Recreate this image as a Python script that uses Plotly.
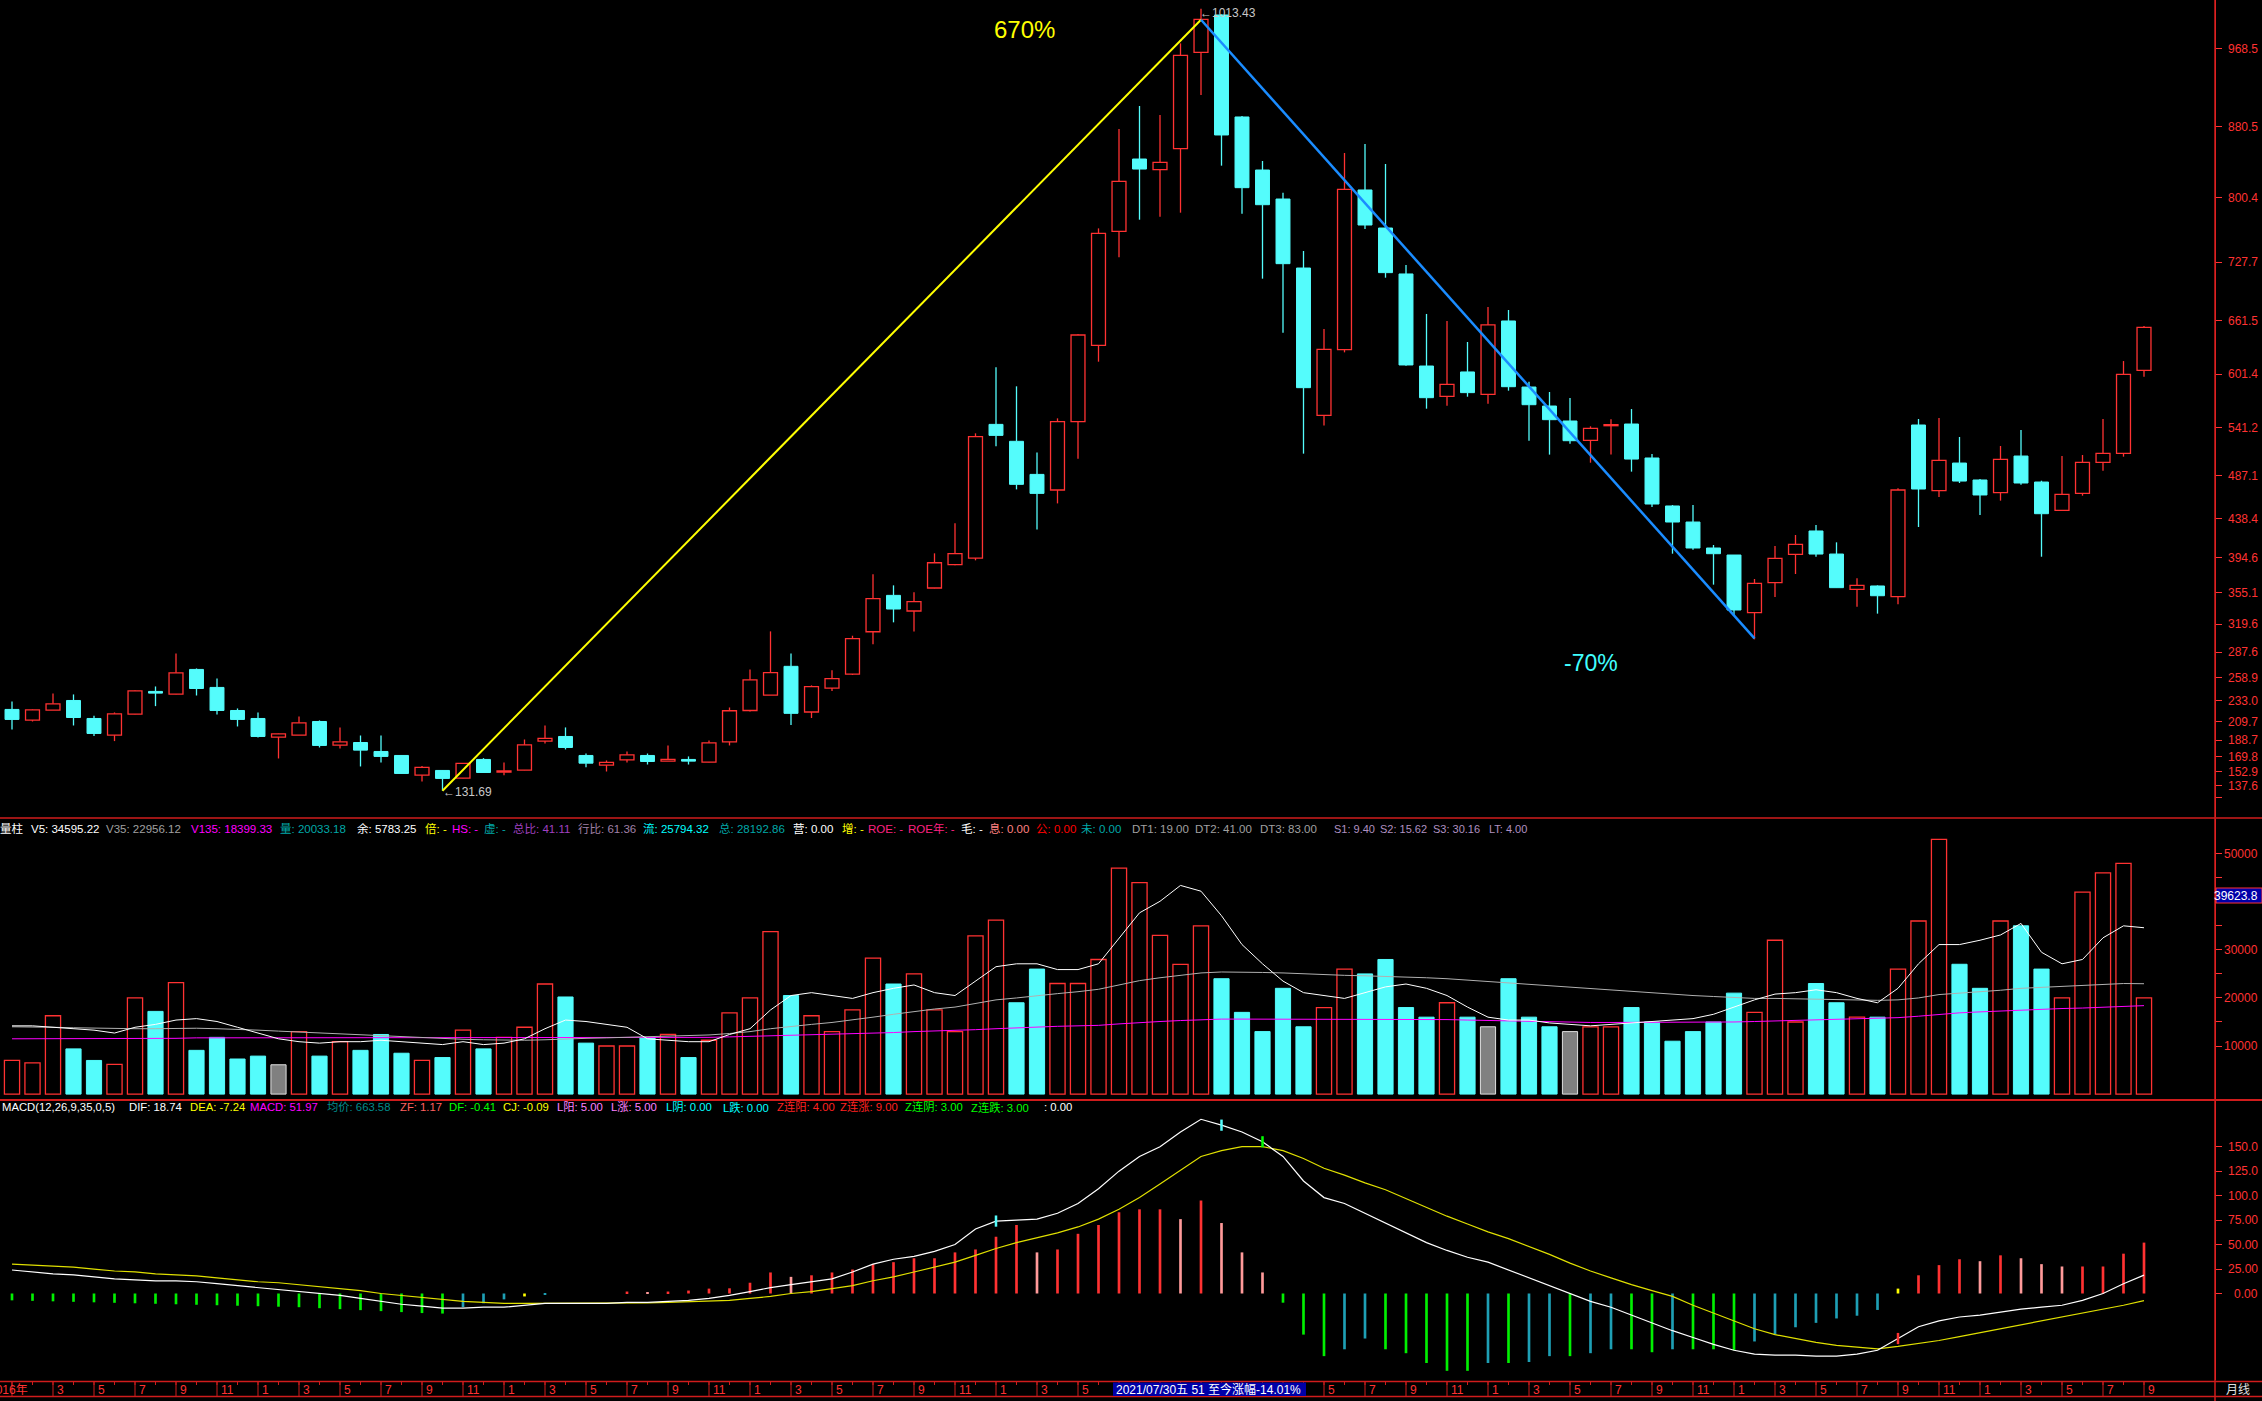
import plotly.graph_objects as go
import pandas as pd

W, H = 2262, 1401
RED = '#ff3232'
CYAN = '#54fcfc'
FONT = 'Liberation Sans, Noto Sans CJK SC, sans-serif'

months = pd.period_range('2016-01', periods=105, freq='M')

opens = [223.4, 211.3, 222.6, 233.5, 213.2, 194.4, 218.1, 243.7, 240.6, 268.5,
         248.2, 222.2, 213.2, 192.2, 194.4, 209.8, 183.1, 186.1, 176.0, 171.5,
         149.3, 154.6, 145.9, 167.0, 152.7, 155.0, 187.7, 192.9, 171.5, 160.6,
         166.6, 171.5, 165.1, 167.0, 164.0, 186.9, 222.2, 239.6, 272.0, 220.5,
         247.5, 263.3, 311.0, 352.0, 334.4, 360.3, 386.6, 394.1, 544.8, 525.7,
         488.4, 470.8, 547.9, 633.9, 762.5, 844.0, 832.0, 855.7, 964.3, 1006.4,
         891.4, 831.6, 798.9, 721.1, 555.0, 629.1, 809.1, 766.2, 714.4, 610.6,
         576.4, 603.9, 578.7, 661.4, 586.9, 565.5, 548.6, 526.8, 543.3, 545.2,
         506.9, 452.8, 434.7, 405.4, 397.5, 332.5, 366.3, 398.3, 424.6, 398.6,
         358.8, 362.6, 350.5, 544.1, 470.0, 501.2, 482.1, 467.8, 509.1, 479.8,
         447.9, 467.0, 502.0, 512.1, 605.7]
highs = [232.4, 223.5, 241.4, 240.3, 216.2, 220.0, 244.9, 249.3, 286.5, 269.6,
         258.3, 224.5, 220.0, 196.3, 215.5, 211.0, 203.1, 194.0, 194.0, 172.0,
         159.5, 155.0, 163.0, 168.5, 163.6, 189.5, 205.3, 203.1, 173.7, 165.9,
         176.0, 173.7, 182.8, 170.4, 188.4, 225.6, 268.5, 311.4, 286.6, 250.5,
         267.5, 306.5, 375.7, 363.3, 355.4, 399.4, 433.2, 534.7, 609.1, 587.7,
         513.2, 551.6, 646.5, 765.8, 877.9, 903.8, 893.6, 974.4, 1013.43, 1007.0,
         892.5, 841.8, 806.1, 740.3, 652.3, 850.8, 860.9, 838.4, 724.5, 669.3,
         661.4, 637.7, 677.2, 673.8, 593.0, 581.3, 574.5, 542.6, 550.5, 562.1,
         511.4, 453.9, 453.9, 408.8, 397.6, 370.5, 407.7, 420.1, 431.3, 411.8,
         371.2, 363.3, 472.7, 550.9, 552.0, 530.6, 483.2, 520.4, 538.4, 481.3,
         509.1, 510.3, 550.9, 616.2, 655.7]
lows = [200.8, 209.8, 222.6, 205.3, 193.3, 187.7, 217.8, 227.1, 240.3, 239.1,
        217.7, 204.2, 191.8, 168.1, 194.2, 180.5, 179.4, 159.1, 163.6, 150.8,
        142.2, 131.69, 145.5, 152.0, 149.3, 154.8, 185.0, 178.3, 158.3, 153.4,
        163.6, 161.3, 165.0, 161.3, 163.8, 182.8, 221.1, 239.6, 205.8, 213.7,
        244.1, 262.2, 296.8, 321.6, 311.4, 360.0, 386.0, 391.5, 520.0, 471.5,
        426.4, 455.7, 506.1, 615.5, 733.2, 775.6, 779.0, 783.5, 916.2, 836.5,
        782.4, 709.1, 648.2, 511.8, 543.4, 626.0, 765.1, 710.2, 611.0, 562.5,
        565.9, 576.0, 568.2, 582.8, 526.4, 510.7, 523.1, 501.6, 510.7, 491.5,
        451.6, 399.0, 403.5, 364.1, 329.9, 302.4, 350.2, 376.1, 395.6, 360.5,
        339.3, 331.4, 341.9, 429.1, 462.9, 478.7, 442.6, 458.8, 476.8, 395.6,
        447.5, 464.4, 492.6, 508.4, 598.6]
closes = [212.1, 223.0, 229.7, 214.3, 196.3, 218.5, 244.4, 241.8, 264.7, 247.0,
          222.2, 212.1, 192.9, 195.9, 208.3, 182.8, 186.9, 177.5, 170.4, 151.2,
          158.0, 145.6, 162.5, 152.3, 154.2, 183.5, 190.7, 180.5, 162.8, 163.6,
          172.2, 164.7, 167.0, 165.1, 185.8, 221.9, 256.8, 264.8, 219.0, 249.0,
          258.1, 303.2, 348.3, 336.6, 344.9, 388.8, 399.0, 530.9, 532.4, 477.2,
          467.0, 547.8, 645.6, 760.2, 818.8, 832.7, 840.3, 960.9, 1001.5, 871.1,
          811.7, 792.5, 726.0, 586.2, 629.4, 809.8, 769.6, 715.9, 611.8, 574.9,
          590.0, 580.6, 656.9, 587.3, 567.0, 550.1, 526.4, 540.3, 544.5, 505.7,
          455.0, 434.7, 405.4, 399.0, 335.5, 365.6, 393.8, 409.5, 398.6, 360.7,
          363.3, 351.6, 470.8, 471.9, 504.2, 480.9, 465.2, 505.4, 478.7, 444.1,
          465.9, 502.0, 512.1, 601.2, 654.2]

volume = [7000, 6500, 16300, 9400, 7000, 6200, 20000, 17200, 23200, 9100,
          11800, 7300, 7900, 6100, 13000, 7900, 10900, 9100, 12400, 8500,
          7000, 7600, 13300, 9400, 11800, 13900, 22900, 20200, 10600, 10000,
          10000, 11800, 12400, 7600, 11200, 16900, 20000, 33800, 20500, 16300,
          13000, 17500, 28300, 22900, 25000, 17500, 13000, 32900, 36200, 19000,
          26000, 23000, 23000, 28000, 47000, 44000, 33000, 27000, 35000, 24000,
          17000, 13000, 22000, 14000, 18000, 26000, 25000, 28000, 18000, 16000,
          19000, 16000, 14000, 24000, 16000, 14000, 13000, 14000, 14000, 18000,
          15000, 11000, 13000, 15000, 21000, 17000, 32000, 15000, 23000, 19000,
          16000, 16000, 26000, 36000, 53000, 27000, 22000, 36000, 35000, 26000,
          20000, 42000, 46000, 48000, 20000]
vol_gray = [13, 72, 76]

vol_ma5 = [14200, 14200, 13900, 13600, 13300, 12700, 13900, 14500, 15400, 15700,
           15100, 13900, 12700, 11500, 10900, 10600, 10900, 10900, 11200, 10900,
           10600, 10300, 10900, 10300, 10600, 11500, 13600, 15400, 15100, 14500,
           13900, 11500, 11200, 10900, 10900, 12400, 13600, 17500, 20500, 21100,
           20500, 19900, 21100, 22000, 22700, 21100, 20500, 23500, 26500, 27100,
           27100, 25900, 25900, 27100, 32500, 37700, 40100, 43400, 42200, 37100,
           31100, 27100, 23500, 21100, 20500, 19900, 21100, 22300, 22900, 22000,
           20500, 18100, 16000, 15400, 15400, 14800, 14500, 14200, 14500, 14800,
           15100, 15400, 15700, 16600, 18100, 19600, 20800, 21100, 21700, 21100,
           19900, 19000, 22000, 27100, 31100, 31100, 32000, 33100, 35500, 29500,
           27100, 28000, 32500, 35000, 34600]
vol_ma35 = [14000, 14000, 13900, 13800, 13700, 13600, 13600, 13600, 13700, 13700,
            13600, 13500, 13300, 13100, 12900, 12700, 12500, 12300, 12100, 11900,
            11700, 11500, 11400, 11300, 11200, 11200, 11300, 11500, 11600, 11700,
            11800, 11900, 12000, 12100, 12300, 12600, 13000, 13600, 14100, 14500,
            14900, 15400, 16000, 16600, 17200, 17700, 18100, 18800, 19600, 20000,
            20500, 20900, 21300, 21800, 22700, 23600, 24200, 24700, 25200, 25400,
            25400, 25300, 25200, 25000, 24800, 24700, 24600, 24500, 24400, 24200,
            24000, 23700, 23400, 23200, 22900, 22600, 22300, 22000, 21700, 21400,
            21100, 20800, 20500, 20300, 20100, 19900, 19900, 19800, 19800, 19700,
            19600, 19500, 19600, 20000, 20700, 21000, 21200, 21600, 22000, 22200,
            22300, 22500, 22800, 23000, 22956]
vol_ma135 = [11500, 11500, 11500, 11500, 11500, 11500, 11600, 11600, 11600, 11700,
             11700, 11700, 11700, 11700, 11700, 11700, 11700, 11700, 11700, 11700,
             11700, 11700, 11700, 11700, 11700, 11700, 11800, 11800, 11800, 11800,
             11800, 11800, 11800, 11800, 11800, 11900, 12000, 12100, 12200, 12300,
             12400, 12500, 12600, 12800, 13000, 13100, 13200, 13400, 13600, 13800,
             14000, 14100, 14200, 14300, 14600, 14900, 15100, 15300, 15500, 15600,
             15600, 15600, 15600, 15600, 15600, 15600, 15600, 15600, 15600, 15600,
             15500, 15400, 15300, 15200, 15100, 15000, 14900, 14900, 14900, 14900,
             14900, 14900, 14900, 14900, 15000, 15100, 15200, 15300, 15400, 15500,
             15600, 15700, 15900, 16200, 16600, 16900, 17100, 17300, 17500, 17700,
             17800, 17900, 18100, 18300, 18399]

dif = [24, 22, 20, 19, 17, 15, 14, 13, 13, 12, 10, 8, 6, 4, 2, 0, -2, -5, -8, -11,
       -13, -15, -15, -14, -14, -12, -10, -10, -10, -10, -9, -9, -8, -7, -5, -2, 2, 6, 9, 12,
       15, 22, 30, 35, 38, 43, 50, 66, 74, 75, 76, 82, 92, 107, 125, 140, 150, 165, 178, 172,
       165, 155, 140, 115, 98, 92, 82, 72, 62, 52, 44, 37, 32, 24, 16, 8, 0, -8, -14, -22,
       -30, -38, -45, -52, -58, -62, -63, -63, -64, -64, -62, -58, -46, -34, -28, -24, -22, -19, -16, -14,
       -12, -7, 0, 10, 18.74]
dea = [30, 29, 28, 27, 25, 23, 22, 20, 19, 18, 16, 14, 12, 11, 9, 7, 5, 3, 0, -2,
       -4, -6, -8, -9, -10, -10, -10, -10, -10, -10, -10, -9.5, -9, -8.5, -8, -7, -5, -3, 0, 2,
       5, 8, 13, 17, 22, 27, 32, 39, 46, 52, 57, 62, 68, 76, 86, 98, 112, 126, 140, 146,
       150, 150, 146, 138, 128, 121, 113, 106, 97, 88, 79, 71, 63, 56, 48, 40, 31, 23, 16, 9,
       3, -3, -12, -20, -28, -36, -42, -46, -50, -53, -55, -56.5, -54, -51, -48, -44, -40, -36, -32, -28,
       -24, -20, -16, -12, -7.24]
macd_bar = [-7, -7.5, -8, -8.5, -9, -9.5, -10, -10.5, -11, -11.5, -12, -12.5, -13, -13.5, -14, -15, -16, -17, -18, -19,
            -20, -20.5, -14, -10, -6, -3, -1, 0, 0, 0, 2, 1, 2, 3, 5, 5.3, 11, 21.5, 17, 18.6,
            21.5, 24.5, 30, 32, 36, 36, 42, 45, 58, 70, 42, 45, 61, 70, 83, 86, 86, 76, 95, 72,
            42, 21.5, -9.4, -42, -64, -57, -46, -57, -61, -71, -79, -79, -71, -71, -70, -64, -64, -61, -57, -57,
            -60, -57, -57, -57, -58, -49, -42, -34.5, -30, -25.5, -22.7, -16.8, 5, 18.6, 29, 35, 33, 39, 36, 30,
            27.6, 27.6, 27.6, 40.7, 52]
macd_yellow = [25, 92]
dif_marks = [(48, '#54fcfc'), (59, '#54fcfc'), (61, '#00ff00'), (92, '#ff3232')]

price_ticks = [968.5, 880.5, 800.4, 727.7, 661.5, 601.4, 541.2, 487.1, 438.4, 394.6,
               355.1, 319.6, 287.6, 258.9, 233.0, 209.7, 188.7, 169.8, 152.9, 137.6]
price_tick_extra = [123.9]
vol_ticks = [10000, 20000, 30000, 50000]
vol_minor = [15000, 25000, 35000, 40000, 45000]
macd_ticks = [0, 25, 50, 75, 100, 125, 150]
macd_labels = ['0.00', '25.00', '50.00', '75.00', '100.0', '125.0', '150.0']

N = len(closes)
idx = list(range(N))
X_RANGE = [-12 / 20.5, (2215 - 12) / 20.5]
XD = 2215 / W


def px(x):
    return x / W


def py(y):
    return 1 - y / H


fig = go.Figure()

up = [c >= o for o, c in zip(opens, closes)]
ui = [i for i in idx if up[i]]
di = [i for i in idx if not up[i]]
fig.add_trace(go.Bar(x=ui, y=[max(abs(closes[i] - opens[i]), 0.6) for i in ui],
                     base=[min(opens[i], closes[i]) for i in ui], width=0.68,
                     marker=dict(color='black', line=dict(color=RED, width=1.3)),
                     xaxis='x', yaxis='y', hoverinfo='skip'))
fig.add_trace(go.Bar(x=di, y=[max(abs(closes[i] - opens[i]), 0.6) for i in di],
                     base=[min(opens[i], closes[i]) for i in di], width=0.68,
                     marker=dict(color=CYAN, line=dict(color=CYAN, width=1)),
                     xaxis='x', yaxis='y', hoverinfo='skip'))


def wicks(ids):
    xs, ys = [], []
    for i in ids:
        top = max(opens[i], closes[i])
        bot = min(opens[i], closes[i])
        xs += [i, i, None, i, i, None]
        ys += [highs[i], top, None, bot, lows[i], None]
    return xs, ys


wx, wy = wicks(ui)
fig.add_trace(go.Scatter(x=wx, y=wy, mode='lines', line=dict(color=RED, width=1.3),
                         xaxis='x', yaxis='y', hoverinfo='skip'))
wx, wy = wicks(di)
fig.add_trace(go.Scatter(x=wx, y=wy, mode='lines', line=dict(color=CYAN, width=1.3),
                         xaxis='x', yaxis='y', hoverinfo='skip'))

lo_i, hi_i, lo2_i = 21, 58, 85
fig.add_trace(go.Scatter(x=[lo_i, hi_i], y=[lows[lo_i], 1001], mode='lines',
                         line=dict(color='#ffff00', width=2), xaxis='x', yaxis='y'))
fig.add_trace(go.Scatter(x=[hi_i, lo2_i], y=[1001, 303.5], mode='lines',
                         line=dict(color='#1a8cff', width=2.5), xaxis='x', yaxis='y'))

vup = [i == 0 or closes[i] >= closes[i - 1] for i in idx]
vu = [i for i in idx if vup[i] and i not in vol_gray]
vd = [i for i in idx if (not vup[i]) and i not in vol_gray]
fig.add_trace(go.Bar(x=vu, y=[volume[i] for i in vu], width=0.74,
                     marker=dict(color='black', line=dict(color=RED, width=1.3)),
                     xaxis='x2', yaxis='y2', hoverinfo='skip'))
fig.add_trace(go.Bar(x=vd, y=[volume[i] for i in vd], width=0.74,
                     marker=dict(color=CYAN, line=dict(color=CYAN, width=1)),
                     xaxis='x2', yaxis='y2', hoverinfo='skip'))
fig.add_trace(go.Bar(x=vol_gray, y=[volume[i] for i in vol_gray], width=0.74,
                     marker=dict(color='#808080', line=dict(color='#e0e0e0', width=1)),
                     xaxis='x2', yaxis='y2', hoverinfo='skip'))
fig.add_trace(go.Scatter(x=idx, y=vol_ma135, mode='lines', line=dict(color='#ff00ff', width=1),
                         xaxis='x2', yaxis='y2'))
fig.add_trace(go.Scatter(x=idx, y=vol_ma35, mode='lines', line=dict(color='#b0b0b0', width=1),
                         xaxis='x2', yaxis='y2'))
fig.add_trace(go.Scatter(x=idx, y=vol_ma5, mode='lines', line=dict(color='#ffffff', width=1),
                         xaxis='x2', yaxis='y2'))

bar_colors = []
for i, v in enumerate(macd_bar):
    prev = macd_bar[i - 1] if i > 0 else v
    if i in macd_yellow:
        bar_colors.append('#ffff00')
    elif v >= 0:
        bar_colors.append(RED if v >= prev else '#ff9a9a')
    else:
        bar_colors.append('#00f000' if v <= prev else '#1e9fb4')
fig.add_trace(go.Bar(x=idx, y=macd_bar, width=0.13, marker=dict(color=bar_colors, line=dict(width=0)),
                     xaxis='x3', yaxis='y3', hoverinfo='skip'))
fig.add_trace(go.Scatter(x=idx, y=dea, mode='lines', line=dict(color='#e0e000', width=1.2),
                         xaxis='x3', yaxis='y3'))
fig.add_trace(go.Scatter(x=idx, y=dif, mode='lines', line=dict(color='#ffffff', width=1.2),
                         xaxis='x3', yaxis='y3'))
fig.add_trace(go.Scatter(x=[m[0] for m in dif_marks], y=[dif[m[0]] for m in dif_marks], mode='markers',
                         marker=dict(symbol='line-ns', size=8,
                                     line=dict(width=2.5, color=[m[1] for m in dif_marks])),
                         xaxis='x3', yaxis='y3', hoverinfo='skip'))

common_x = dict(range=X_RANGE, domain=[0, XD], showgrid=False, zeroline=False,
                showticklabels=False, ticks='', showline=False, fixedrange=True)
fig.update_layout(
    xaxis=dict(**common_x, anchor='y'),
    xaxis2=dict(**common_x, anchor='y2', matches='x'),
    xaxis3=dict(**common_x, anchor='y3', matches='x'),
    yaxis=dict(range=[968.5 - (817 - 48.6) / 0.8869, 968.5 + 48.6 / 0.8869],
               domain=[py(817), 1], side='right', anchor='x', fixedrange=True,
               showgrid=False, zeroline=False, showticklabels=False,
               tickvals=price_ticks + price_tick_extra, ticks='outside', ticklen=6,
               tickcolor=RED, showline=True, linecolor=RED, linewidth=1),
    yaxis2=dict(range=[(1094.1 - 1099) / 0.004808, (1094.1 - 819) / 0.004808],
                domain=[py(1099), py(819)], side='right', anchor='x2', fixedrange=True,
                showgrid=False, zeroline=False, showticklabels=False,
                tickvals=vol_ticks + vol_minor, ticks='outside', ticklen=6,
                tickcolor=RED, showline=True, linecolor=RED, linewidth=1),
    yaxis3=dict(range=[(1293.5 - 1380) / 0.9787, (1293.5 - 1101) / 0.9787],
                domain=[py(1380), py(1101)], side='right', anchor='x3', fixedrange=True,
                showgrid=False, zeroline=False, showticklabels=False,
                tickvals=macd_ticks, ticks='outside', ticklen=6,
                tickcolor=RED, showline=True, linecolor=RED, linewidth=1),
    barmode='overlay',
    width=W, height=H, margin=dict(l=0, r=0, t=0, b=0),
    paper_bgcolor='black', plot_bgcolor='black', showlegend=False,
    font=dict(family=FONT, size=12, color='white'),
)

shapes = []
for yy, wdt in [(818, 1.5), (1100, 2), (1381.5, 1.5), (1396.5, 1.5)]:
    shapes.append(dict(type='line', xref='paper', yref='paper', x0=0, x1=1, y0=py(yy), y1=py(yy),
                       line=dict(color='#d01c1c', width=wdt)))
shapes.append(dict(type='line', xref='paper', yref='paper', x0=XD, x1=XD, y0=0, y1=1,
                   line=dict(color='#d01c1c', width=1.5)))

anns = []


def txt(x, y, s, color, size=12, xanchor='left', xref='paper', yref='paper', **kw):
    anns.append(dict(x=x, y=y, xref=xref, yref=yref, text=s, showarrow=False,
                     xanchor=xanchor, yanchor='middle',
                     font=dict(family=FONT, size=size, color=color), **kw))


for v in price_ticks:
    txt(px(2260), v, f'{v:.1f}', RED, xanchor='right', yref='y')
for v in vol_ticks:
    txt(px(2260), v, f'{v}', RED, xanchor='right', yref='y2')
for v, s in zip(macd_ticks, macd_labels):
    txt(px(2260), v, s, RED, xanchor='right', yref='y3')

shapes.append(dict(type='rect', xref='paper', yref='paper', x0=px(2216), x1=px(2262),
                   y0=py(903), y1=py(888), fillcolor='#0000a8', line=dict(color=RED, width=1)))
txt(px(2260), py(895.5), '39623.8', 'white', xanchor='right')

BOX0, BOX1 = 1113, 1306
for i, m in enumerate(months):
    xpix = 12 + 20.5 * i
    shapes.append(dict(type='line', xref='x', yref='paper', x0=i, x1=i, y0=py(1382), y1=py(1385),
                       line=dict(color='#d01c1c', width=1)))
    if m.month % 2 == 1:
        shapes.append(dict(type='line', xref='x', yref='paper', x0=i, x1=i, y0=py(1382), y1=py(1396),
                           line=dict(color='#d01c1c', width=1)))
        if i == 0:
            txt(px(30), py(1389.5), f'{m.year}年', RED, xanchor='right')
        elif not (BOX0 - 12 <= xpix <= BOX1):
            txt(i, py(1389.5), str(m.month), RED, xref='x', xshift=2)
shapes.append(dict(type='rect', xref='paper', yref='paper', x0=px(BOX0), x1=px(BOX1),
                   y0=py(1396), y1=py(1382.5), fillcolor='#0000a8', line=dict(width=0)))
txt(px(1114), py(1389.5), '2021/07/30五 51 至今涨幅-14.01%', 'white', size=12)
txt(px(2252), py(1389.5), '月线', '#e0e0e0', xanchor='right')

txt(px(1024), py(29), '670%', '#ffff00', size=24, xanchor='center')
txt(px(1591), py(663), '-70%', '#40ffff', size=23, xanchor='center')
txt(px(1198), py(13), '←1013.43', '#c8c8c8', size=12)
txt(px(441), py(792), '←131.69', '#c8c8c8', size=12)

vol_hdr = [(-2, '量柱', '#ffffff'), (29, 'V5: 34595.22', '#ffffff'), (104, 'V35: 22956.12', '#a0a0a0'),
           (189, 'V135: 18399.33', '#ff00ff'), (278, '量: 20033.18', '#00a8a8'),
           (355, '余: 5783.25', '#ffffff'), (423, '倍: -', '#ffff00'), (450, 'HS: -', '#ff00ff'),
           (482, '虚: -', '#00a8a8'), (511, '总比: 41.11', '#a040c0'), (576, '行比: 61.36', '#a080a8'),
           (640.5, '流: 25794.32', '#00ffff'), (717, '总: 28192.86', '#00a8a8'), (790.5, '营: 0.00', '#ffffff'),
           (839.6, '增: -', '#ffff00'), (865.6, 'ROE: -', '#ff2080'), (906, 'ROE年: -', '#ff2080'),
           (959, '毛: -', '#ffffff'), (987, '息: 0.00', '#ff8080'), (1034, '公: 0.00', '#ff0000'),
           (1079, '未: 0.00', '#00a8a8'), (1129.6, 'DT1: 19.00', '#a0a0a0'), (1193, 'DT2: 41.00', '#a0a0a0'),
           (1258, 'DT3: 83.00', '#a0a0a0'), (1332, 'S1: 9.40', '#b090c0'), (1378, 'S2: 15.62', '#b090c0'),
           (1431, 'S3: 30.16', '#b090c0'), (1487, 'LT: 4.00', '#b090c0')]
for x, s, c in vol_hdr:
    txt(px(x), py(829), s, c, size=11 if x > 1300 else 11.5)

macd_hdr = [(0, 'MACD(12,26,9,35,0,5)', '#ffffff'), (127, 'DIF: 18.74', '#ffffff'),
            (187.5, 'DEA: -7.24', '#ffff00'), (248, 'MACD: 51.97', '#ff00ff'),
            (324.6, '均价: 663.58', '#008c8c'), (398, 'ZF: 1.17', '#ff6060'), (447, 'DF: -0.41', '#00ff00'),
            (500.6, 'CJ: -0.09', '#ffff00'), (555, 'L阳: 5.00', '#ff80ff'), (609, 'L涨: 5.00', '#ff80ff'),
            (663.6, 'L阴: 0.00', '#00ffff'), (721, 'L跌: 0.00', '#00ffff'), (774.7, 'Z连阳: 4.00', '#ff2020'),
            (838, 'Z连涨: 9.00', '#ff2020'), (903, 'Z连阴: 3.00', '#00ff00'),
            (969, 'Z连跌: 3.00', '#00ff00'), (1041.6, ': 0.00', '#ffffff')]
for x, s, c in macd_hdr:
    txt(px(x), py(1107), s, c, size=11.3)

fig.update_layout(shapes=shapes, annotations=anns)
fig.write_html('out.html', config={'displayModeBar': False},
               post_script="document.body.style.margin='0';document.body.style.overflow='hidden';")
